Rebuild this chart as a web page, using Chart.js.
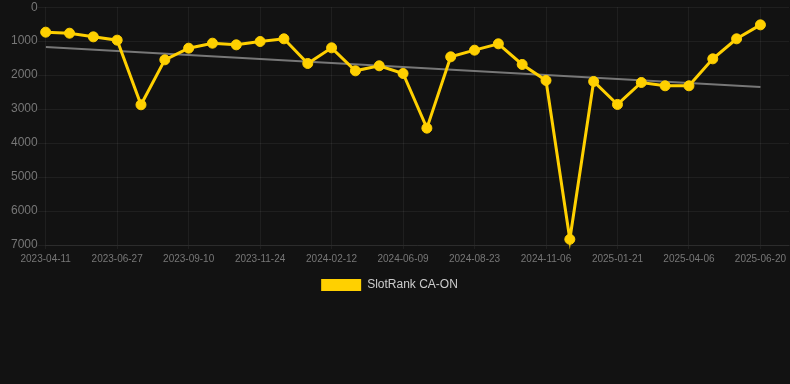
<!DOCTYPE html>
<html>
<head>
<meta charset="utf-8">
<script src="https://cdn.jsdelivr.net/npm/chart.js@4/dist/chart.umd.min.js"></script>
<style>
    html, body { margin: 0; padding: 0; background: #121212; }
    #wrap { position: relative; width: 790px; height: 301px; }
</style>
</head>
<body>
<div id="wrap"><canvas id="rank-chart"></canvas></div>
<script>
const dates = [
    '2023-04-11', '2023-05-06', '2023-06-01', '2023-06-27', '2023-07-22', '2023-08-16',
    '2023-09-10', '2023-10-05', '2023-10-30', '2023-11-24', '2023-12-21', '2024-01-17',
    '2024-02-12', '2024-03-22', '2024-05-01', '2024-06-09', '2024-07-04', '2024-07-29',
    '2024-08-23', '2024-09-17', '2024-10-12', '2024-11-06', '2024-12-01', '2024-12-26',
    '2025-01-21', '2025-02-14', '2025-03-12', '2025-04-06', '2025-05-01', '2025-05-26',
    '2025-06-20',
];
const rank = [
    735, 765, 873, 970, 2873, 1549, 1206, 1059, 1108, 1010, 931, 1657,
    1196, 1873, 1725, 1951, 3560, 1461, 1265, 1078, 1686, 2157, 6833, 2186,
    2863, 2216, 2314, 2314, 1520, 931, 520,
];
const trendEnds = [1170, 2350];
const yTicks = [0, 1000, 2000, 3000, 4000, 5000, 6000, 7000];

const colorLine = '#ffd000';
const colorGrid = 'rgba(255,255,255,0.06)';
const colorTick = '#777777';
const font = "'Liberation Sans', Arial, sans-serif";

const points = rank.map((v, i) => ({ x: i, y: v }));
const trend = [
    { x: 0, y: trendEnds[0] },
    { x: dates.length - 1, y: trendEnds[1] },
];

// legend sits a bit left of centre in the original
const legendNudge = {
    id: 'legendNudge',
    afterLayout(chart) {
        chart.legend.left -= 11;
        chart.legend.right -= 11;
    },
};

new Chart(document.getElementById('rank-chart'), {
    type: 'line',
    plugins: [legendNudge],
    data: {
        datasets: [
            {
                label: 'SlotRank CA-ON',
                data: points,
                borderColor: colorLine,
                backgroundColor: colorLine,
                borderWidth: 3,
                pointRadius: 5,
                pointBorderWidth: 1,
                pointBackgroundColor: colorLine,
                tension: 0,
                clip: false,
            },
            {
                label: 'trend',
                data: trend,
                borderColor: '#777777',
                borderWidth: 2,
                pointRadius: 0,
                fill: false,
            },
        ],
    },
    options: {
        responsive: true,
        maintainAspectRatio: false,
        animation: false,
        layout: { autoPadding: false, padding: { left: 11, right: 0, top: 0, bottom: 0 } },
        plugins: {
            legend: {
                position: 'bottom',
                labels: {
                    color: '#cccccc',
                    font: { family: font, size: 12 },
                    boxWidth: 40,
                    boxHeight: 12,
                    padding: 10,
                    filter: (item) => item.datasetIndex === 0,
                    generateLabels: (chart) =>
                        Chart.defaults.plugins.legend.labels.generateLabels(chart)
                            .map((item) => ({ ...item, lineWidth: 0 })),
                },
            },
            tooltip: { enabled: false },
        },
        scales: {
            x: {
                type: 'linear',
                min: 0,
                max: 31.2,
                afterBuildTicks: (scale) => {
                    scale.ticks = dates
                        .map((d, i) => ({ value: i }))
                        .filter((t) => t.value % 3 === 0);
                },
                grid: { color: colorGrid, tickLength: 4 },
                border: { color: colorGrid },
                ticks: {
                    color: colorTick,
                    font: { family: font, size: 10 },
                    padding: 4,
                    maxRotation: 0,
                    autoSkip: false,
                    callback: (v) => dates[v],
                },
            },
            y: {
                reverse: true,
                min: 0,
                max: 7000,
                afterBuildTicks: (scale) => {
                    scale.ticks = yTicks.map((v) => ({ value: v }));
                },
                grid: { color: colorGrid, tickLength: 8 },
                border: { display: false },
                ticks: {
                    color: colorTick,
                    font: { family: font, size: 12 },
                    padding: 0,
                    callback: (v) => String(v),
                },
            },
        },
    },
});
</script>
</body>
</html>
